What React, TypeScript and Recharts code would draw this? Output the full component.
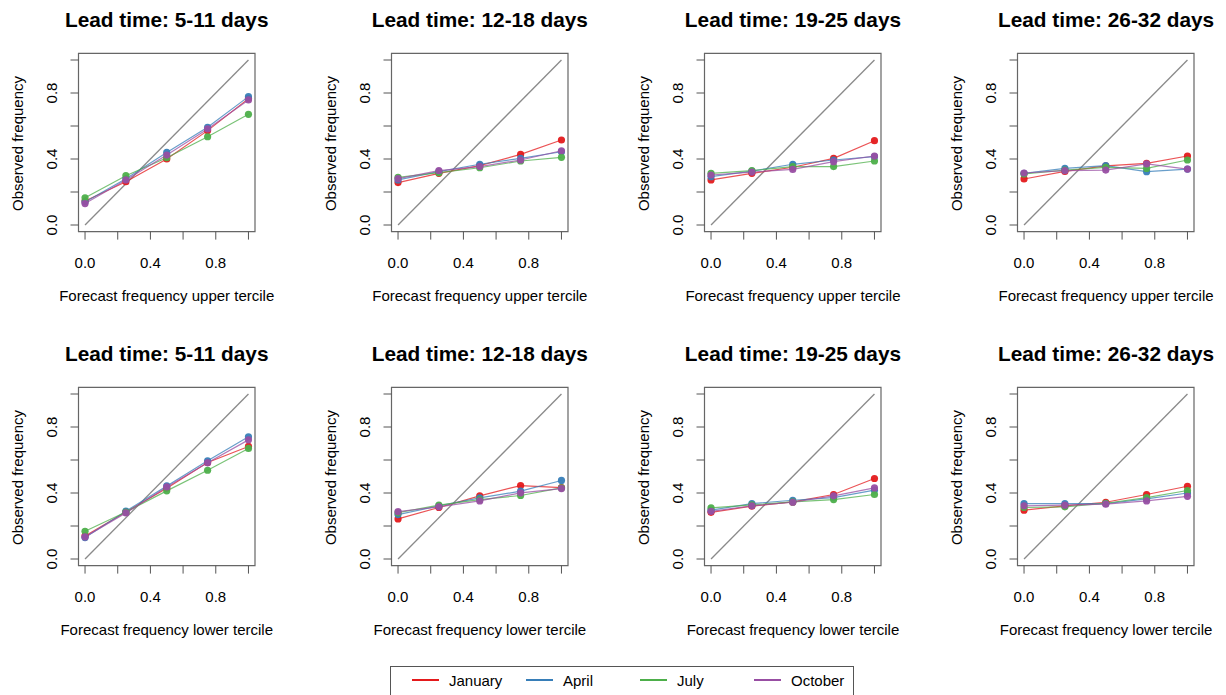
import { LineChart, Line, XAxis, YAxis, ReferenceArea, ReferenceLine } from "recharts";

// forecast probability bins (x) shared by every panel
const FORECAST_BINS = [0, 0.25, 0.5, 0.75, 1];
const AXIS_TICKS = [0, 0.2, 0.4, 0.6, 0.8, 1];
const LABELED_TICKS = [0, 0.4, 0.8];
const MONTHS = ["January", "April", "July", "October"];
const LEAD_TIMES = ["5-11 days", "12-18 days", "19-25 days", "26-32 days"];
const TERCILES = ["upper", "lower"];

// observed frequency per panel, rows = January, April, July, October
const UPPER_5_11 = [
  [0.145, 0.262, 0.4, 0.572, 0.766],
  [0.14, 0.28, 0.44, 0.592, 0.778],
  [0.165, 0.299, 0.408, 0.535, 0.671],
  [0.13, 0.273, 0.424, 0.582, 0.758],
];
const UPPER_12_18 = [
  [0.257, 0.313, 0.36, 0.428, 0.515],
  [0.273, 0.323, 0.368, 0.404, 0.444],
  [0.289, 0.317, 0.347, 0.388, 0.41],
  [0.281, 0.329, 0.354, 0.394, 0.45],
];
const UPPER_19_25 = [
  [0.273, 0.313, 0.35, 0.404, 0.511],
  [0.293, 0.327, 0.368, 0.394, 0.414],
  [0.313, 0.329, 0.354, 0.354, 0.388],
  [0.303, 0.321, 0.337, 0.384, 0.418],
];
const UPPER_26_32 = [
  [0.279, 0.325, 0.358, 0.374, 0.418],
  [0.313, 0.343, 0.36, 0.323, 0.339],
  [0.309, 0.333, 0.349, 0.343, 0.394],
  [0.315, 0.329, 0.333, 0.37, 0.339],
];
const LOWER_5_11 = [
  [0.14, 0.285, 0.429, 0.585, 0.682],
  [0.13, 0.29, 0.443, 0.595, 0.741],
  [0.168, 0.285, 0.413, 0.538, 0.67],
  [0.134, 0.279, 0.437, 0.583, 0.722],
];
const LOWER_12_18 = [
  [0.243, 0.312, 0.383, 0.445, 0.433],
  [0.269, 0.322, 0.37, 0.411, 0.476],
  [0.281, 0.326, 0.36, 0.385, 0.431],
  [0.287, 0.316, 0.352, 0.401, 0.427],
];
const LOWER_19_25 = [
  [0.283, 0.32, 0.346, 0.391, 0.488],
  [0.296, 0.336, 0.356, 0.372, 0.417],
  [0.31, 0.328, 0.346, 0.36, 0.391],
  [0.289, 0.322, 0.344, 0.383, 0.431],
];
const LOWER_26_32 = [
  [0.296, 0.322, 0.344, 0.391, 0.441],
  [0.336, 0.336, 0.336, 0.364, 0.4],
  [0.312, 0.316, 0.338, 0.372, 0.415],
  [0.322, 0.326, 0.332, 0.352, 0.38],
];

const PANELS = [
  [UPPER_5_11, UPPER_12_18, UPPER_19_25, UPPER_26_32],
  [LOWER_5_11, LOWER_12_18, LOWER_19_25, LOWER_26_32],
];

const COLORS = ["#E41A1C", "#377EB8", "#4DAF4A", "#984EA3"];
const FONT = "'Liberation Sans', Arial, Helvetica, sans-serif";

// layout (px)
const PANEL_DX = 313.1;
const PANEL_DY = 334;
const CHART_W = 313;
const CHART_H = 334;
const BOX_L = 78.5;
const BOX_T = 53.4;
const BOX_W = 176.5;
const BOX_H = 178.2;
const Y_AXIS_W = 60;
const X_AXIS_H = 40;

const XTick = ({ x, y, payload }: any) => {
  if (!LABELED_TICKS.includes(payload.value)) return <g />;
  return (
    <text x={x} y={y} dy={26.4} textAnchor="middle" fontSize={15} fontFamily={FONT} fill="#000">
      {payload.value.toFixed(1)}
    </text>
  );
};

const YTick = ({ x, y, payload }: any) => {
  if (!LABELED_TICKS.includes(payload.value)) return <g />;
  const tx = x - 11.5;
  return (
    <text
      x={tx}
      y={y}
      textAnchor="middle"
      fontSize={15}
      fontFamily={FONT}
      fill="#000"
      transform={`rotate(-90 ${tx} ${y})`}
    >
      {payload.value.toFixed(1)}
    </text>
  );
};

const Panel = ({ values }: { values: number[][] }) => {
  const data = FORECAST_BINS.map((x, i) => {
    const row: any = { x };
    MONTHS.forEach((m, k) => {
      row[m] = values[k][i];
    });
    return row;
  });

  return (
    <LineChart
      width={CHART_W}
      height={CHART_H}
      data={data}
      margin={{
        top: BOX_T,
        left: BOX_L - Y_AXIS_W,
        right: CHART_W - BOX_L - BOX_W,
        bottom: CHART_H - BOX_T - BOX_H - X_AXIS_H,
      }}
    >
      <XAxis
        type="number"
        dataKey="x"
        domain={[-0.04, 1.04]}
        ticks={AXIS_TICKS}
        allowDataOverflow
        axisLine={false}
        tickSize={8}
        tickLine={{ stroke: "#555" }}
        tick={<XTick />}
        height={X_AXIS_H}
      />
      <YAxis
        type="number"
        domain={[-0.04, 1.04]}
        ticks={AXIS_TICKS}
        allowDataOverflow
        axisLine={false}
        tickSize={8}
        tickLine={{ stroke: "#555" }}
        tick={<YTick />}
        width={Y_AXIS_W}
      />
      <ReferenceLine
        segment={[
          { x: 0, y: 0 },
          { x: 1, y: 1 },
        ]}
        stroke="#8a8a8a"
        strokeWidth={1.3}
      />
      {MONTHS.map((m, k) => (
        <Line
          key={m}
          dataKey={m}
          stroke={COLORS[k]}
          strokeOpacity={0.75}
          strokeWidth={1.2}
          dot={{ r: 3.6, fill: COLORS[k], stroke: "none", fillOpacity: 0.95 }}
          activeDot={false}
          isAnimationActive={false}
        />
      ))}
      <ReferenceArea
        x1={-0.04}
        x2={1.04}
        y1={-0.04}
        y2={1.04}
        fill="none"
        fillOpacity={0}
        stroke="#666"
        strokeWidth={1.2}
      />
    </LineChart>
  );
};

const App = () => {
  const cx = BOX_L + BOX_W / 2;
  const cy = BOX_T + BOX_H / 2 + 1;
  return (
    <div
      style={{
        position: "absolute",
        left: 0,
        top: 0,
        width: 1226,
        height: 695,
        overflow: "hidden",
        background: "#fff",
        fontFamily: FONT,
      }}
    >
      {PANELS.map((row, r) =>
        row.map((values, c) => (
          <div
            key={`${r}-${c}`}
            style={{ position: "absolute", left: c * PANEL_DX, top: r * PANEL_DY }}
          >
            <Panel values={values} />
          </div>
        ))
      )}
      <svg
        width={1226}
        height={695}
        style={{ position: "absolute", left: 0, top: 0, pointerEvents: "none" }}
      >
        {PANELS.map((row, r) =>
          row.map((_, c) => {
            const ox = c * PANEL_DX;
            const oy = r * PANEL_DY;
            return (
              <g key={`t-${r}-${c}`} fontFamily={FONT} fill="#000">
                <text x={ox + cx} y={oy + 27} textAnchor="middle" fontSize={20.8} fontWeight="bold">
                  {`Lead time: ${LEAD_TIMES[c]}`}
                </text>
                <text x={ox + cx} y={oy + 301} textAnchor="middle" fontSize={15}>
                  {`Forecast frequency ${TERCILES[r]} tercile`}
                </text>
                <text
                  x={ox + 22.5}
                  y={oy + cy}
                  textAnchor="middle"
                  fontSize={15}
                  transform={`rotate(-90 ${ox + 22.5} ${oy + cy})`}
                >
                  Observed frequency
                </text>
              </g>
            );
          })
        )}
        <rect x={390.5} y={666.5} width={463} height={40} fill="#fff" stroke="#555" />
        {MONTHS.map((m, k) => (
          <g key={m}>
            <line x1={412 + 114 * k} x2={439 + 114 * k} y1={680} y2={680} stroke={COLORS[k]} strokeWidth={2} />
            <text x={449 + 114 * k} y={686} fontSize={15} fontFamily={FONT} fill="#000">
              {m}
            </text>
          </g>
        ))}
      </svg>
    </div>
  );
};

export default App;
